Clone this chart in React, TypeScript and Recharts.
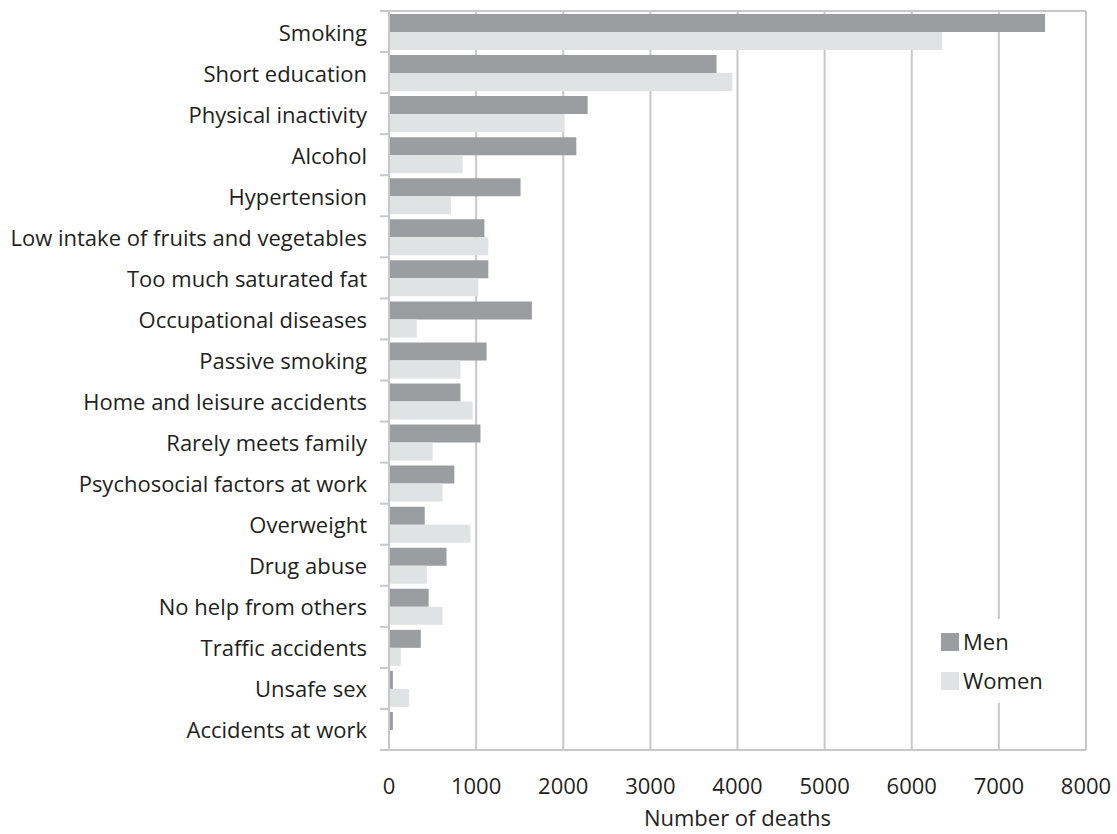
import { Bar, BarChart, CartesianGrid, XAxis, YAxis } from 'recharts';

const categories = [
  'Smoking',
  'Short education',
  'Physical inactivity',
  'Alcohol',
  'Hypertension',
  'Low intake of fruits and vegetables',
  'Too much saturated fat',
  'Occupational diseases',
  'Passive smoking',
  'Home and leisure accidents',
  'Rarely meets family',
  'Psychosocial factors at work',
  'Overweight',
  'Drug abuse',
  'No help from others',
  'Traffic accidents',
  'Unsafe sex',
  'Accidents at work',
];
const men = [7530, 3760, 2280, 2150, 1510, 1095, 1140, 1640, 1120, 820, 1050, 750, 410, 660, 455, 365, 45, 45];
const women = [6350, 3940, 2010, 845, 710, 1140, 1025, 320, 820, 960, 500, 615, 935, 435, 615, 135, 230, 0];
const xTicks = [0, 1000, 2000, 3000, 4000, 5000, 6000, 7000, 8000];

const series = [
  { key: 'Men', color: '#9c9da1' },
  { key: 'Women', color: '#e1e2e4' },
];

const data = categories.map((name, i) => ({ name, Men: men[i], Women: women[i] }));

const FONT = '"Open Sans", sans-serif';
const GRID = '#c8c8cc';
const TEXT = '#231f20';
const BAND = 739 / categories.length;

function CategoryTick(props: any) {
  const { x, y, payload, index } = props;
  const last = index === categories.length - 1;
  return (
    <g>
      <line x1={x + 13} x2={x + 22} y1={y - BAND / 2} y2={y - BAND / 2} stroke={GRID} strokeWidth={2} />
      {last && <line x1={x + 13} x2={x + 22} y1={y + BAND / 2} y2={y + BAND / 2} stroke={GRID} strokeWidth={2} />}
      <text x={x} y={y} textAnchor="end" dominantBaseline="central" fill={TEXT} fontSize={22} fontFamily={FONT}>
        {payload.value}
      </text>
    </g>
  );
}

export default function App() {
  return (
    <div style={{ position: 'absolute', left: 0, top: 0, width: 1117, height: 834, background: '#fff' }}>
      <BarChart
        width={1117}
        height={834}
        data={data}
        layout="vertical"
        margin={{ top: 11, right: 31, bottom: 0, left: 0 }}
        barCategoryGap={3}
        barGap={0}
      >
        <CartesianGrid
          stroke={GRID}
          strokeWidth={2}
          horizontalCoordinatesGenerator={({ offset }: any) => [offset.top]}
        />
        <XAxis
          type="number"
          domain={[0, 8000]}
          ticks={xTicks}
          interval={0}
          axisLine={{ stroke: GRID, strokeWidth: 2 }}
          tickLine={false}
          tickMargin={22}
          height={84}
          tick={{ fill: TEXT, fontSize: 22, fontFamily: FONT }}
          label={{ value: 'Number of deaths', position: 'insideBottom', offset: 8, fill: TEXT, fontSize: 22, fontFamily: FONT }}
        />
        <YAxis
          type="category"
          dataKey="name"
          width={389}
          interval={0}
          axisLine={{ stroke: GRID, strokeWidth: 2 }}
          tickLine={false}
          tickSize={0}
          tickMargin={22}
          tick={<CategoryTick />}
        />
        {series.map((s) => (
          <Bar key={s.key} dataKey={s.key} fill={s.color} isAnimationActive={false} />
        ))}
      </BarChart>
      <div
        style={{
          position: 'absolute',
          left: 930,
          top: 619,
          width: 150,
          height: 84,
          background: '#fff',
          padding: '3px 0 0 11px',
          boxSizing: 'border-box',
        }}
      >
        {series.map((s) => (
          <div key={s.key} style={{ display: 'flex', alignItems: 'center', height: 39 }}>
            <span style={{ width: 18, height: 18, background: s.color, display: 'inline-block', marginRight: 4 }} />
            <span style={{ fontFamily: FONT, fontSize: 22, color: TEXT, lineHeight: '39px' }}>{s.key}</span>
          </div>
        ))}
      </div>
    </div>
  );
}
